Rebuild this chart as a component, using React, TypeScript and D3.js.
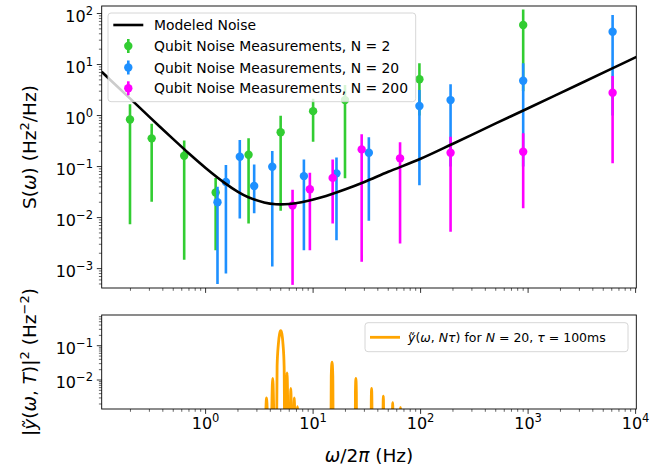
import React, { useRef, useEffect } from "react";
import * as d3 from "d3";

// modeled noise
const modelFreq = [0.108, 0.15, 0.2, 0.3, 0.5, 0.7, 1, 1.5, 2, 2.5, 3.5, 4.5, 6, 8, 12, 20, 30, 50, 100, 200, 500, 1000, 3000, 6000, 10200];
const modelS = [7.2, 3.75, 2.12, 0.94, 0.345, 0.18, 0.094, 0.048, 0.032, 0.025, 0.0198, 0.0183, 0.0185, 0.0202, 0.025, 0.036, 0.05, 0.079, 0.142, 0.28, 0.7, 1.39, 4.15, 8.3, 14.1];

// measurements N = 2
const n2Freq = [0.198, 0.315, 0.632, 1.24, 2.51, 4.99, 10, 19.8, 97.5, 900];
const n2Val = [0.84, 0.357, 0.163, 0.031, 0.17, 0.469, 1.22, 2.01, 5.13, 59.6];
const n2Lo = [0.0074, 0.0204, 0.0015, 0.0023, 0.0077, 0.0136, 0.306, 0.0587, 1, 3];
const n2Hi = [1.67, 0.694, 0.325, 0.06, 0.36, 0.99, 2.13, 3.96, 10.6, 120];

// measurements N = 20
const n20Freq = [1.29, 1.545, 2.08, 2.83, 4.17, 8.21, 16.5, 33, 97.5, 190, 900, 6110];
const n20Val = [0.02, 0.0497, 0.156, 0.0415, 0.099, 0.065, 0.0736, 0.187, 1.54, 2.01, 4.81, 44];
const n20Lo = [0.0005, 0.0008, 0.0096, 0.0121, 0.0011, 0.0023, 0.0036, 0.0087, 0.043, 0.1, 0.1, 1];
const n20Hi = [0.04, 0.107, 0.331, 0.11, 0.201, 0.138, 0.151, 0.374, 3.16, 4.09, 10.6, 93];

// measurements N = 200
const n200Freq = [6.44, 9.33, 15.2, 28.3, 64.4, 190, 900, 6110];
const n200Val = [0.0173, 0.036, 0.06, 0.217, 0.145, 0.187, 0.195, 2.8];
const n200Lo = [0.00048, 0.0023, 0.0077, 0.00136, 0.0031, 0.0053, 0.0152, 0.116];
const n200Hi = [0.035, 0.076, 0.138, 0.428, 0.298, 0.384, 0.448, 5.95];

// filter function |y(w, N tau)|^2, N = 20, tau = 100 ms (zeros put at 1e-6)
const filtFreq = [3.5, 3.69, 3.95, 4.21, 4.5, 4.625, 4.75, 4.875, 5.0, 5.125, 5.25, 5.375, 5.5, 5.72, 6.0, 6.2, 6.45, 6.68, 6.95, 7.15, 7.4,
  14.5, 14.75, 15, 15.25, 15.5, 24.5, 24.75, 25, 25.25, 25.5, 34.5, 34.75, 35, 35.25, 35.5,
  44.5, 44.75, 45, 45.25, 45.5, 54.5, 54.75, 55, 55.25, 55.5, 64.5, 64.75, 65, 65.25, 65.5];
const filtVal = [1e-6, 0.003, 1e-6, 0.0112, 1e-6, 0.025, 0.11, 0.22, 0.273, 0.22, 0.11, 0.025, 1e-6, 0.016, 1e-6, 0.0057, 1e-6, 0.003, 1e-6, 0.00166, 1e-6,
  1e-6, 0.013, 0.033, 0.013, 1e-6, 1e-6, 0.0045, 0.0112, 0.0045, 1e-6, 1e-6, 0.0023, 0.0057, 0.0023, 1e-6,
  1e-6, 0.0014, 0.0034, 0.0014, 1e-6, 1e-6, 0.0009, 0.0022, 0.0009, 1e-6, 1e-6, 0.0006, 0.0016, 0.0006, 1e-6];

const topExp = [-3, -2, -1, 0, 1, 2];
const botExp = [-2, -1];
const xExp = [0, 1, 2, 3, 4];

const FONT = "DejaVu Sans";

function App() {
  let svgRef = useRef(null);

  const draw = () => {
    const svg = d3.select(svgRef.current);
    svg.selectAll("*").remove();

    const x = d3.scaleLog().domain([0.108, 10150]).range([101.7, 636.3]);
    const yTop = d3.scaleLog().domain([Math.pow(10, -3.38), Math.pow(10, 2.147)]).range([288, 6]);
    const yBot = d3.scaleLog().domain([Math.pow(10, -2.845), Math.pow(10, -0.105)]).range([409, 315]);

    const defs = svg.append("defs");
    defs.append("clipPath").attr("id", "clipTop").append("rect")
      .attr("x", 101.7).attr("y", 6).attr("width", 534.6).attr("height", 282);
    defs.append("clipPath").attr("id", "clipBot").append("rect")
      .attr("x", 101.7).attr("y", 315).attr("width", 534.6).attr("height", 94);

    // log ticks helper
    const minorTicks = (dom) => {
      const out = [];
      const lo = Math.floor(Math.log10(dom[0])), hi = Math.ceil(Math.log10(dom[1]));
      for (let k = lo; k <= hi; k++) {
        for (let m = 2; m <= 9; m++) {
          const v = m * Math.pow(10, k);
          if (v >= dom[0] && v <= dom[1]) out.push(v);
        }
      }
      return out;
    };

    const expLabel = (g, px, py, e, anchor) => {
      const t = g.append("text").attr("x", px).attr("y", py)
        .attr("text-anchor", anchor).attr("font-family", FONT).attr("font-size", 16).attr("fill", "#000");
      t.append("tspan").text("10");
      t.append("tspan").attr("dy", -7).attr("font-size", 11.5).text(String(e).replace("-", "\u2212"));
    };

    const drawFrame = (y, top, bottom, yLabels, withX) => {
      const g = svg.append("g");
      // x ticks
      x.domain();
      xExp.forEach(e => {
        const px = x(Math.pow(10, e));
        g.append("line").attr("x1", px).attr("x2", px).attr("y1", bottom).attr("y2", bottom + 4.9)
          .attr("stroke", "#000").attr("stroke-width", 0.8);
        if (withX) expLabel(g, px, bottom + 20, e, "middle");
      });
      minorTicks(x.domain()).forEach(v => {
        const px = x(v);
        g.append("line").attr("x1", px).attr("x2", px).attr("y1", bottom).attr("y2", bottom + 2.8)
          .attr("stroke", "#000").attr("stroke-width", 0.6);
      });
      yLabels.forEach(e => {
        const py = y(Math.pow(10, e));
        g.append("line").attr("x1", 101.7).attr("x2", 96.8).attr("y1", py).attr("y2", py)
          .attr("stroke", "#000").attr("stroke-width", 0.8);
        expLabel(g, 93, py + 8, e, "end");
      });
      minorTicks(y.domain()).forEach(v => {
        const py = y(v);
        g.append("line").attr("x1", 101.7).attr("x2", 98.9).attr("y1", py).attr("y2", py)
          .attr("stroke", "#000").attr("stroke-width", 0.6);
      });
      g.append("rect").attr("x", 101.7).attr("y", top).attr("width", 534.6).attr("height", bottom - top)
        .attr("fill", "none").attr("stroke", "#000").attr("stroke-width", 0.9);
    };

    // ---- top panel ----
    const plotTop = svg.append("g").attr("clip-path", "url(#clipTop)");

    const series = [
      { f: n2Freq, v: n2Val, lo: n2Lo, hi: n2Hi, color: "#32cd32" },
      { f: n20Freq, v: n20Val, lo: n20Lo, hi: n20Hi, color: "#1e90ff" },
      { f: n200Freq, v: n200Val, lo: n200Lo, hi: n200Hi, color: "#ff00ff" },
    ];

    series.forEach(s => {
      const g = plotTop.append("g");
      g.selectAll("line").data(s.f).join("line")
        .attr("x1", d => x(d)).attr("x2", d => x(d))
        .attr("y1", (d, i) => yTop(s.hi[i])).attr("y2", (d, i) => yTop(s.lo[i]))
        .attr("stroke", s.color).attr("stroke-width", 2.6);
      g.selectAll("circle").data(s.f).join("circle")
        .attr("cx", d => x(d)).attr("cy", (d, i) => yTop(s.v[i]))
        .attr("r", 4.2).attr("fill", s.color);
    });

    const modelLine = d3.line()
      .x(d => x(d[0])).y(d => yTop(d[1]))
      .curve(d3.curveCatmullRom);
    plotTop.append("path")
      .attr("d", modelLine(modelFreq.map((f, i) => [f, modelS[i]])))
      .attr("fill", "none").attr("stroke", "#000").attr("stroke-width", 2.6);

    drawFrame(yTop, 6, 288, topExp, false);

    // legend top
    const lg = svg.append("g");
    lg.append("rect").attr("x", 108).attr("y", 13).attr("width", 307.7).attr("height", 88.7).attr("rx", 3)
      .attr("fill", "#fff").attr("fill-opacity", 0.8).attr("stroke", "#cccccc").attr("stroke-width", 0.8);
    lg.append("line").attr("x1", 113.3).attr("x2", 143.3).attr("y1", 25).attr("y2", 25)
      .attr("stroke", "#000").attr("stroke-width", 2.6);
    const legendRows = [
      { label: "Modeled Noise", y: 25 },
      { label: "Qubit Noise Measurements, N = 2", y: 46, color: "#32cd32" },
      { label: "Qubit Noise Measurements, N = 20", y: 67.5, color: "#1e90ff" },
      { label: "Qubit Noise Measurements, N = 200", y: 88.3, color: "#ff00ff" },
    ];
    legendRows.forEach(r => {
      if (r.color) {
        lg.append("line").attr("x1", 128.3).attr("x2", 128.3).attr("y1", r.y - 7).attr("y2", r.y + 7)
          .attr("stroke", r.color).attr("stroke-width", 2.6);
        lg.append("circle").attr("cx", 128.3).attr("cy", r.y).attr("r", 4.2).attr("fill", r.color);
      }
      lg.append("text").attr("x", 154).attr("y", r.y + 5).attr("font-family", FONT).attr("font-size", 13.9)
        .attr("fill", "#000").text(r.label);
    });

    // ---- bottom panel ----
    const plotBot = svg.append("g").attr("clip-path", "url(#clipBot)");
    const filtLine = d3.line()
      .x(d => x(d[0])).y(d => yBot(d[1]))
      .curve(d3.curveMonotoneX);
    plotBot.append("path")
      .attr("d", filtLine(filtFreq.map((f, i) => [f, filtVal[i]])))
      .attr("fill", "none").attr("stroke", "#ffa500").attr("stroke-width", 2.8).attr("stroke-linejoin", "round");

    drawFrame(yBot, 315, 409, botExp, true);

    const lb = svg.append("g");
    lb.append("rect").attr("x", 365).attr("y", 322.7).attr("width", 263).attr("height", 29).attr("rx", 3)
      .attr("fill", "#fff").attr("fill-opacity", 0.8).attr("stroke", "#cccccc").attr("stroke-width", 0.8);
    lb.append("line").attr("x1", 370).attr("x2", 400).attr("y1", 337.3).attr("y2", 337.3)
      .attr("stroke", "#ffa500").attr("stroke-width", 2.8);
    const lt = lb.append("text").attr("x", 408).attr("y", 342).attr("font-family", FONT).attr("font-size", 12.5).attr("fill", "#000");
    lt.append("tspan").attr("font-style", "italic").text("y\u0303");
    lt.append("tspan").text("(");
    lt.append("tspan").attr("font-style", "italic").text("ω");
    lt.append("tspan").text(", ");
    lt.append("tspan").attr("font-style", "italic").text("Nτ");
    lt.append("tspan").text(") for ");
    lt.append("tspan").attr("font-style", "italic").text("N");
    lt.append("tspan").text(" = 20, ");
    lt.append("tspan").attr("font-style", "italic").text("τ");
    lt.append("tspan").text(" = 100ms");

    // axis labels
    const yl1 = svg.append("text").attr("transform", "translate(36,147) rotate(-90)")
      .attr("text-anchor", "middle").attr("font-family", FONT).attr("font-size", 18.5).attr("fill", "#000");
    yl1.append("tspan").text("S(");
    yl1.append("tspan").attr("font-style", "italic").text("ω");
    yl1.append("tspan").text(") (Hz");
    yl1.append("tspan").attr("dy", -7).attr("font-size", 13).text("2");
    yl1.append("tspan").attr("dy", 7).text("/Hz)");

    const yl2 = svg.append("text").attr("transform", "translate(36,362) rotate(-90)")
      .attr("text-anchor", "middle").attr("font-family", FONT).attr("font-size", 18.5).attr("fill", "#000");
    yl2.append("tspan").text("|");
    yl2.append("tspan").attr("font-style", "italic").text("y\u0303");
    yl2.append("tspan").text("(");
    yl2.append("tspan").attr("font-style", "italic").text("ω");
    yl2.append("tspan").text(", ");
    yl2.append("tspan").attr("font-style", "italic").text("T");
    yl2.append("tspan").text(")|");
    yl2.append("tspan").attr("dy", -7).attr("font-size", 13).text("2");
    yl2.append("tspan").attr("dy", 7).text(" (Hz");
    yl2.append("tspan").attr("dy", -7).attr("font-size", 13).text("\u22122");
    yl2.append("tspan").attr("dy", 7).text(")");

    const xl = svg.append("text").attr("x", 369).attr("y", 462)
      .attr("text-anchor", "middle").attr("font-family", FONT).attr("font-size", 18.5).attr("fill", "#000");
    xl.append("tspan").attr("font-style", "italic").text("ω");
    xl.append("tspan").text("/2");
    xl.append("tspan").attr("font-style", "italic").text("π");
    xl.append("tspan").text(" (Hz)");
  };

  useEffect(() => {
    draw();
  });

  return (
    <svg ref={svgRef} width={671} height={470}
      style={{ position: "absolute", left: 0, top: 0, background: "#fff" }}></svg>
  );
}

export default App;
